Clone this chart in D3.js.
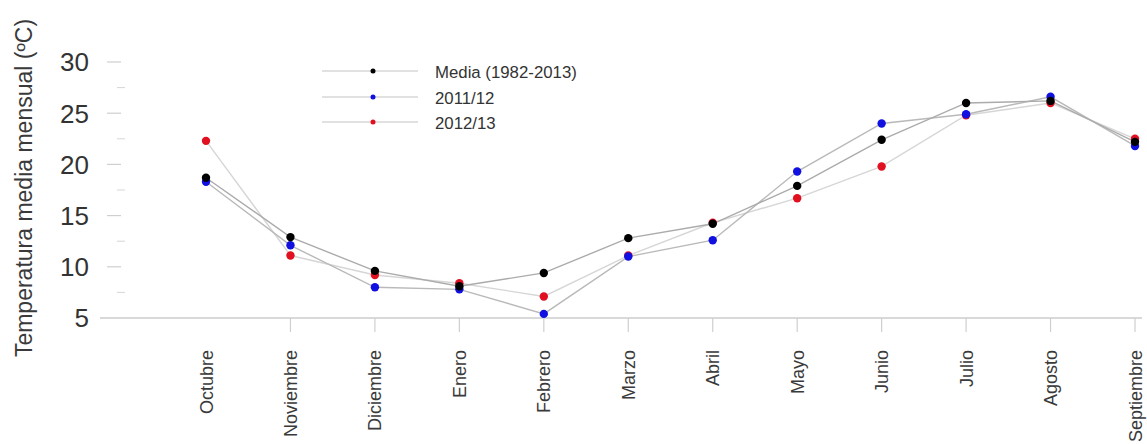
<!DOCTYPE html>
<html>
<head>
<meta charset="utf-8">
<script src="https://cdn.jsdelivr.net/npm/d3@7"></script>
<style>
  html, body { margin: 0; padding: 0; background: #fff; }
  svg { display: block; font-family: "Liberation Sans", Arial, sans-serif; }
</style>
</head>
<body>
<svg id="chart" width="1147" height="444"></svg>
<script>
// Monthly mean temperature, hydrological year October–September
const months = ["Octubre", "Noviembre", "Diciembre", "Enero", "Febrero", "Marzo",
                "Abril", "Mayo", "Junio", "Julio", "Agosto", "Septiembre"];
const media   = [18.7, 12.9, 9.6, 8.1, 9.4, 12.8, 14.2, 17.9, 22.4, 26.0, 26.2, 22.2];
const y2011   = [18.3, 12.1, 8.0, 7.8, 5.4, 11.0, 12.6, 19.3, 24.0, 24.9, 26.6, 21.8];
const y2012   = [22.3, 11.1, 9.2, 8.4, 7.1, 11.1, 14.3, 16.7, 19.8, 24.8, 26.0, 22.5];
const yTicks  = [5, 10, 15, 20, 25, 30];
const yMinor  = [7.5, 12.5, 17.5, 22.5, 27.5];

const series = [
  { name: "Media (1982-2013)", values: media, color: "#000000", line: "#ababab" },
  { name: "2011/12",           values: y2011, color: "#1010e0", line: "#b9b9b9" },
  { name: "2012/13",           values: y2012, color: "#e01020", line: "#d6d6d6" }
];

const svg = d3.select("#chart");

const x = d3.scalePoint().domain(months).range([206, 1135]);
const y = d3.scaleLinear().domain([5, 30]).range([318, 62]);

// x axis baseline
svg.append("line")
  .attr("x1", 100).attr("x2", 1142)
  .attr("y1", y(5)).attr("y2", y(5))
  .attr("stroke", "#cccccc").attr("stroke-width", 1.3);

// y axis: major and minor ticks with labels
const gy = svg.append("g");
gy.selectAll("line.major").data(yTicks.filter(d => d !== 5)).join("line")
  .attr("class", "major")
  .attr("x1", 107).attr("x2", 121)
  .attr("y1", d => y(d)).attr("y2", d => y(d))
  .attr("stroke", "#cfcfcf").attr("stroke-width", 1.2);
gy.selectAll("line.minor").data(yMinor).join("line")
  .attr("class", "minor")
  .attr("x1", 117).attr("x2", 125)
  .attr("y1", d => y(d)).attr("y2", d => y(d))
  .attr("stroke", "#d6d6d6").attr("stroke-width", 1);
gy.selectAll("text").data(yTicks).join("text")
  .attr("x", 89).attr("y", d => y(d))
  .attr("dy", "0.36em")
  .attr("text-anchor", "end")
  .attr("font-size", 26)
  .attr("fill", "#333")
  .text(d => d);

// y axis title
svg.append("text")
  .attr("transform", "translate(32,188) rotate(-90)")
  .attr("text-anchor", "middle")
  .attr("font-size", 23)
  .attr("fill", "#3a3a3a")
  .text("Temperatura media mensual (ºC)");

// x ticks and rotated month labels
const gx = svg.append("g");
gx.selectAll("line").data(months.slice(1)).join("line")
  .attr("x1", d => x(d)).attr("x2", d => x(d))
  .attr("y1", y(5)).attr("y2", y(5) + 14)
  .attr("stroke", "#cfcfcf").attr("stroke-width", 1.2);
gx.selectAll("text").data(months).join("text")
  .attr("transform", d => `translate(${x(d) + 6.5},350) rotate(-90)`)
  .attr("text-anchor", "end")
  .attr("font-size", 18)
  .attr("fill", "#3a3a3a")
  .text(d => d);

// connecting lines
const line = d3.line().x((d, i) => x(months[i])).y(d => y(d));
svg.append("g").selectAll("path").data(series.slice().reverse()).join("path")
  .attr("d", s => line(s.values))
  .attr("fill", "none")
  .attr("stroke", s => s.line)
  .attr("stroke-width", 1.4);

// points: 2012/13 drawn first, then 2011/12, mean on top
const drawOrder = [series[2], series[1], series[0]];
drawOrder.forEach(s => {
  svg.append("g").selectAll("circle").data(s.values).join("circle")
    .attr("cx", (d, i) => x(months[i]))
    .attr("cy", d => y(d))
    .attr("r", 4.2)
    .attr("fill", s.color);
});

// legend
const legendY = [71, 97, 122];
const lg = svg.append("g");
series.forEach((s, i) => {
  const g = lg.append("g").attr("transform", `translate(0,${legendY[i]})`);
  g.append("line").attr("x1", 322).attr("x2", 418)
    .attr("stroke", "#c4c4c4").attr("stroke-width", 1.1);
  g.append("circle").attr("cx", 373).attr("cy", 0).attr("r", 2.5).attr("fill", s.color);
  g.append("text").attr("x", 435).attr("y", 1).attr("dy", "0.35em")
    .attr("font-size", 16.8).attr("fill", "#333")
    .text(s.name);
});
</script>
</body>
</html>
